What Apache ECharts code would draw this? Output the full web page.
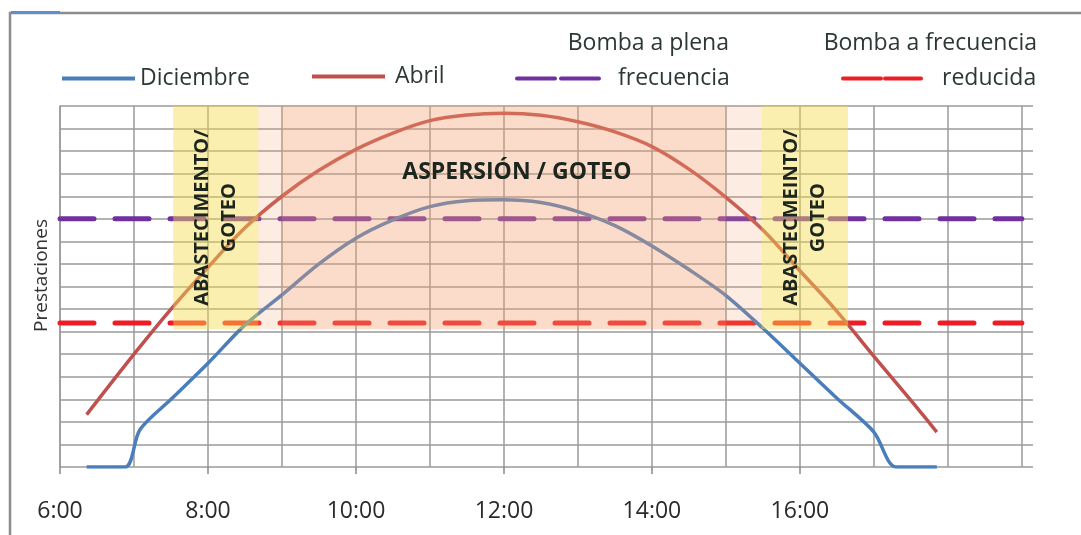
<!DOCTYPE html>
<html>
<head>
<meta charset="utf-8">
<script src="https://cdn.jsdelivr.net/npm/echarts@6/dist/echarts.min.js"></script>
<style>
html,body{margin:0;padding:0;background:#fff;}
#c{width:1081px;height:535px;}
</style>
</head>
<body>
<div id="c"></div>
<script>
// ---- data (hours as decimal, value in grid units) ----
const hourLabels = [6, 8, 10, 12, 14, 16, 18];
const diciembre = [[6.36,0],[6.88,0],[7.08,1.65],[7.5,3.0],[8.0,4.6],[8.5,6.3],[9.0,7.63],[9.5,9.0],[10.0,10.14],[10.5,10.95],[11.0,11.54],[11.5,11.8],[12.0,11.84],[12.5,11.72],[13.0,11.32],[13.5,10.7],[14.0,9.8],[14.5,8.75],[15.0,7.6],[15.5,6.15],[16.0,4.6],[16.5,3.05],[17.0,1.55],[17.3,0],[17.85,0]];
const abril = [[6.36,2.32],[7.0,5.0],[7.5,7.0],[8.0,8.85],[8.5,10.6],[9.0,12.0],[9.5,13.15],[10.0,14.08],[10.5,14.8],[11.0,15.35],[11.5,15.6],[12.0,15.68],[12.5,15.59],[13.0,15.3],[13.5,14.85],[14.0,14.2],[14.5,13.2],[15.0,11.95],[15.5,10.5],[16.0,8.7],[16.5,6.9],[17.0,4.9],[17.5,2.95],[17.85,1.55]];
const plenaLevel = 11;
const reducidaLevel = 6.38;
const lineSpan = [6, 19];
const zoneBottom = 6.1, zoneTop = 16;
const yellowLeft = [7.53, 8.68];
const pinkOuter = [8.68, 15.48];
const pinkInner = [9.0, 15.0];
const yellowRight = [15.48, 16.65];
const labelAspersion = 'ASPERSIÓN / GOTEO';
const labelLeft = 'ABASTECIMENTO/\nGOTEO';
const labelRight = 'ABASTECMEINTO/\nGOTEO';

const FONT = '"Open Sans", "DejaVu Sans", sans-serif';
const TXT = '#2d3833';
const GRID = '#9a9a9a';

const chart = echarts.init(document.getElementById('c'));

const rotLabel = {
  show: true, position: 'inside', rotate: 90, align: 'center', verticalAlign: 'middle',
  fontFamily: FONT, fontWeight: 'bold', fontSize: 20, lineHeight: 27, color: '#1c261f'
};
const hideSymbol = { color: 'rgba(0,0,0,0)', borderColor: 'rgba(0,0,0,0)', borderWidth: 0, opacity: 0 };
const legendText = { fontFamily: FONT, fontSize: 23, color: TXT };

const option = {
  animation: false,
  backgroundColor: '#fff',
  grid: { left: 60, right: 48, top: 106, bottom: 68 },
  xAxis: [
    {
      type: 'value', min: 6, max: 19.15, interval: 1,
      axisLine: { show: false }, axisTick: { show: false }, axisLabel: { show: false },
      splitLine: { show: true, showMaxLine: false, lineStyle: { color: GRID, width: 1.5 } }
    },
    {
      type: 'value', position: 'bottom', min: 6, max: 19.15, interval: 2,
      axisLine: { show: false },
      axisTick: { show: true, length: 7, customValues: hourLabels, lineStyle: { color: '#888', width: 1.5 } },
      axisLabel: { customValues: hourLabels, showMaxLabel: false, formatter: v => v + ':00', margin: 33,
        fontSize: 23, color: '#2a2a2a', fontFamily: FONT },
      splitLine: { show: false }
    }
  ],
  yAxis: {
    type: 'value', min: 0, max: 16, interval: 1,
    axisLine: { show: true, lineStyle: { color: GRID, width: 1.5 } },
    axisTick: { show: false }, axisLabel: { show: false },
    splitLine: { show: true, lineStyle: { color: GRID, width: 1.5 } },
    name: 'Prestaciones', nameLocation: 'middle', nameGap: 9,
    nameTextStyle: { fontFamily: FONT, fontSize: 19, color: '#333', padding: [0, 0, 0, 22] }
  },
  legend: [
    { data: [{ name: 'Diciembre', lineStyle: { width: 4 } }], left: 55, top: 62, itemWidth: 73, itemHeight: 14,
      selectedMode: false, itemStyle: hideSymbol, textStyle: legendText },
    { data: [{ name: 'Abril', lineStyle: { width: 4 } }], left: 305, top: 60, itemWidth: 73, itemHeight: 14,
      selectedMode: false, itemStyle: hideSymbol, textStyle: Object.assign({ padding: [0, 0, 0, 5] }, legendText) },
    { data: [{ name: 'Bomba a plena frecuencia', lineStyle: { type: [38, 6], width: 4 } }],
      formatter: () => 'frecuencia', left: 510, top: 62, itemWidth: 82, itemHeight: 14, selectedMode: false,
      itemStyle: hideSymbol, textStyle: Object.assign({ padding: [0, 0, 0, 14] }, legendText) },
    { data: [{ name: 'Bomba a frecuencia reducida', lineStyle: { type: [38, 4], width: 4 } }],
      formatter: () => 'reducida', left: 836, top: 62, itemWidth: 78, itemHeight: 14, selectedMode: false,
      itemStyle: hideSymbol, textStyle: Object.assign({ padding: [0, 0, 0, 16] }, legendText) }
  ],
  graphic: [
    { type: 'rect', silent: true, shape: { x: 10, y: 13, width: 1100, height: 560 },
      style: { fill: 'none', stroke: '#8c8c8c', lineWidth: 2.5 } },
    { type: 'line', silent: true, shape: { x1: 11, y1: 12.5, x2: 60, y2: 12.5 },
      style: { stroke: '#5b8fd0', lineWidth: 3 } },
    { type: 'text', silent: true, x: 729, y: 43,
      style: { text: 'Bomba a plena', align: 'right', verticalAlign: 'middle', font: '23px ' + FONT, fill: TXT } },
    { type: 'text', silent: true, x: 1037, y: 43,
      style: { text: 'Bomba a frecuencia', align: 'right', verticalAlign: 'middle', font: '23px ' + FONT, fill: TXT } }
  ],
  series: [
    {
      name: 'Diciembre', type: 'line', data: diciembre, smooth: 0.3, symbol: 'none', showSymbol: false,
      color: '#4a7ebb', lineStyle: { color: '#4a7ebb', width: 3.5 }, z: 3
    },
    {
      name: 'Abril', type: 'line', data: abril, smooth: 0.35, symbol: 'none', showSymbol: false,
      color: '#c0504d', lineStyle: { color: '#c0504d', width: 3.5 }, z: 3
    },
    {
      name: 'Bomba a plena frecuencia', type: 'line', symbol: 'none', showSymbol: false,
      data: [[lineSpan[0], plenaLevel], [lineSpan[1], plenaLevel]],
      color: '#7030a0', lineStyle: { color: '#7030a0', width: 5, type: [34, 21], cap: 'round' }, z: 2
    },
    {
      name: 'Bomba a frecuencia reducida', type: 'line', symbol: 'none', showSymbol: false,
      data: [[lineSpan[0], reducidaLevel], [lineSpan[1], reducidaLevel]],
      color: '#ee1c25', lineStyle: { color: '#ee1c25', width: 5, type: [34, 21], cap: 'round' }, z: 2
    },
    {
      name: 'zonas', type: 'line', data: [], silent: true,
      markArea: {
        z: 10, silent: true,
        data: [
          [{ xAxis: yellowLeft[0], yAxis: zoneBottom, itemStyle: { color: 'rgba(247,220,80,0.45)' }, label: Object.assign({ formatter: labelLeft }, rotLabel) },
           { xAxis: yellowLeft[1], yAxis: zoneTop }],
          [{ xAxis: pinkOuter[0], yAxis: zoneBottom, itemStyle: { color: 'rgba(245,160,110,0.2)' },
             label: { show: true, formatter: labelAspersion, position: ['51.4%', 66], align: 'center', verticalAlign: 'middle',
               fontFamily: FONT, fontWeight: 'bold', fontSize: 23, color: '#1c261f' } },
           { xAxis: pinkOuter[1], yAxis: zoneTop }],
          [{ xAxis: pinkInner[0], yAxis: zoneBottom, itemStyle: { color: 'rgba(245,160,110,0.2)' }, label: { show: false } },
           { xAxis: pinkInner[1], yAxis: zoneTop }],
          [{ xAxis: yellowRight[0], yAxis: zoneBottom, itemStyle: { color: 'rgba(247,220,80,0.45)' }, label: Object.assign({ formatter: labelRight }, rotLabel) },
           { xAxis: yellowRight[1], yAxis: zoneTop }]
        ]
      }
    }
  ]
};
chart.setOption(option);
</script>
</body>
</html>
